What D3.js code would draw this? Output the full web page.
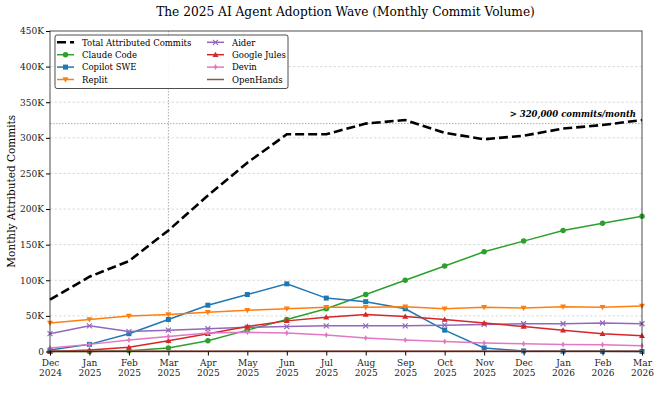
<!DOCTYPE html>
<html>
<head>
<meta charset="utf-8">
<script src="https://cdn.jsdelivr.net/npm/d3@7"></script>
<style>
  body { margin: 0; background: #fff; }
  svg { font-family: "DejaVu Serif", serif; }
</style>
</head>
<body>
<svg id="chart" width="659" height="410"></svg>
<script>
const months = ["Dec\n2024", "Jan\n2025", "Feb\n2025", "Mar\n2025", "Apr\n2025", "May\n2025", "Jun\n2025",
  "Jul\n2025", "Aug\n2025", "Sep\n2025", "Oct\n2025", "Nov\n2025", "Dec\n2025", "Jan\n2026", "Feb\n2026", "Mar\n2026"];

const totalCommits = [73, 105, 127, 170, 219, 265, 305, 305, 320, 325, 307, 298, 303, 313, 318, 325];
const claudeCode = [0, 0, 1, 5, 15, 30, 45, 60, 80, 100, 120, 140, 155, 170, 180, 190];
const copilotSwe = [2, 10, 25, 45, 65, 80, 95, 75, 70, 60, 30, 5, 0.8, 0.3, 0.2, 0];
const replit = [40, 45, 50, 52, 55, 58, 60, 62, 62, 63, 60, 62, 61, 63, 62, 64];
const aider = [25, 36, 28, 30, 32, 34, 35, 36, 36, 36, 37, 38, 39, 39, 40, 39];
const googleJules = [0, 2, 6, 15, 25, 35, 43, 48, 52, 49, 45, 40, 35, 30, 25, 22];
const devin = [5, 10, 16, 21, 26, 27, 26, 23, 19, 16, 14, 12, 11, 10, 9.5, 8];
const openHands = [0.5, 0.5, 0.5, 0.5, 0.5, 0.5, 0.5, 0.5, 0.5, 0.5, 0.5, 0.5, 0.5, 0.5, 0.5, 0.5];
const yTicks = [0, 50, 100, 150, 200, 250, 300, 350, 400, 450];

const series = [
  { name: "Claude Code", values: claudeCode, color: "#2ca02c", marker: "circle" },
  { name: "Copilot SWE", values: copilotSwe, color: "#1f77b4", marker: "square" },
  { name: "Replit", values: replit, color: "#ff7f0e", marker: "tridown" },
  { name: "Aider", values: aider, color: "#9467bd", marker: "x" },
  { name: "Google Jules", values: googleJules, color: "#d62728", marker: "triup" },
  { name: "Devin", values: devin, color: "#e377c2", marker: "thindiamond" },
  { name: "OpenHands", values: openHands, color: "#8c564b", marker: null }
];

const svg = d3.select("#chart");
const margin = { top: 31, right: 17, bottom: 58.5, left: 50 };
const width = 659 - margin.left - margin.right;
const height = 410 - margin.top - margin.bottom;

const g = svg.append("g").attr("transform", `translate(${margin.left},${margin.top})`);

const x = d3.scalePoint().domain(d3.range(months.length)).range([0, width]);
const y = d3.scaleLinear().domain([0, 450]).range([height, 0]);

// grid
g.append("g")
  .selectAll("line")
  .data(yTicks.slice(1, -1))
  .join("line")
  .attr("x1", 0).attr("x2", width)
  .attr("y1", (d) => y(d)).attr("y2", (d) => y(d))
  .attr("stroke", "#cccccc")
  .attr("stroke-width", 0.7)
  .attr("stroke-dasharray", "2.5,2");

// annotation lines
g.append("line")
  .attr("x1", x(3)).attr("x2", x(3))
  .attr("y1", 0).attr("y2", height)
  .attr("stroke", "#999").attr("stroke-width", 0.8).attr("stroke-dasharray", "1.5,1.5");
g.append("line")
  .attr("x1", 0).attr("x2", width)
  .attr("y1", y(320)).attr("y2", y(320))
  .attr("stroke", "#999").attr("stroke-width", 0.8).attr("stroke-dasharray", "1.5,1.5");

g.append("text")
  .attr("x", width - 6)
  .attr("y", y(320) - 7)
  .attr("text-anchor", "end")
  .attr("font-size", 8.5)
  .attr("font-weight", "bold")
  .attr("font-style", "italic")
  .text("> 320,000 commits/month");

const line = (vals) => d3.line().x((d, i) => x(i)).y((d) => y(d))(vals);

function drawMarker(sel, type, color, size) {
  const s = size;
  if (type === "circle") {
    sel.append("circle").attr("r", s * 0.55).attr("fill", color);
  } else if (type === "square") {
    sel.append("rect").attr("x", -s * 0.5).attr("y", -s * 0.5).attr("width", s).attr("height", s).attr("fill", color);
  } else if (type === "tridown") {
    sel.append("path").attr("d", `M${-s * 0.6},${-s * 0.45}L${s * 0.6},${-s * 0.45}L0,${s * 0.6}Z`).attr("fill", color);
  } else if (type === "triup") {
    sel.append("path").attr("d", `M${-s * 0.6},${s * 0.45}L${s * 0.6},${s * 0.45}L0,${-s * 0.6}Z`).attr("fill", color);
  } else if (type === "x") {
    sel.append("path").attr("d", `M${-s * 0.5},${-s * 0.5}L${s * 0.5},${s * 0.5}M${-s * 0.5},${s * 0.5}L${s * 0.5},${-s * 0.5}`)
      .attr("stroke", color).attr("stroke-width", 1.2);
  } else if (type === "thindiamond") {
    sel.append("path").attr("d", `M0,${-s * 0.6}L${s * 0.35},0L0,${s * 0.6}L${-s * 0.35},0Z`).attr("fill", color);
  }
}

series.forEach((s) => {
  g.append("path")
    .attr("d", line(s.values))
    .attr("fill", "none")
    .attr("stroke", s.color)
    .attr("stroke-width", s.marker ? 1.5 : 2);
  if (s.marker) {
    g.append("g")
      .selectAll("g")
      .data(s.values)
      .join("g")
      .attr("transform", (d, i) => `translate(${x(i)},${y(d)})`)
      .each(function () { drawMarker(d3.select(this), s.marker, s.color, 5); });
  }
});

g.append("path")
  .attr("d", line(totalCommits))
  .attr("fill", "none")
  .attr("stroke", "#000")
  .attr("stroke-width", 2.6)
  .attr("stroke-dasharray", "9,4");

// frame
g.append("rect")
  .attr("width", width).attr("height", height)
  .attr("fill", "none").attr("stroke", "#222").attr("stroke-width", 0.8);

// axes
const yAxis = g.append("g")
  .call(d3.axisLeft(y).tickValues(yTicks).tickSize(4).tickPadding(2)
    .tickFormat((d) => (d === 0 ? "0" : d + "K")));
yAxis.select(".domain").remove();
yAxis.selectAll("text").attr("font-size", 9).attr("font-family", "DejaVu Serif").attr("fill", "#222");

const xAxis = g.append("g")
  .attr("transform", `translate(0,${height})`)
  .call(d3.axisBottom(x).tickSize(4).tickPadding(2).tickFormat(""));
xAxis.select(".domain").remove();
xAxis.selectAll(".tick").each(function (d) {
  const parts = months[d].split("\n");
  const t = d3.select(this).append("text")
    .attr("fill", "#222").attr("font-size", 9).attr("font-family", "DejaVu Serif")
    .attr("text-anchor", "middle").attr("y", 14);
  t.append("tspan").attr("x", 0).text(parts[0]);
  t.append("tspan").attr("x", 0).attr("dy", 10.5).text(parts[1]);
});

// titles
svg.append("text")
  .attr("x", 345.5).attr("y", 16)
  .attr("text-anchor", "middle")
  .attr("font-size", 12.2)
  .text("The 2025 AI Agent Adoption Wave (Monthly Commit Volume)");

svg.append("text")
  .attr("transform", `translate(15,${margin.top + height / 2}) rotate(-90)`)
  .attr("text-anchor", "middle")
  .attr("font-size", 10.5)
  .text("Monthly Attributed Commits");

// legend
const legendItems = [{ name: "Total Attributed Commits", color: "#000", marker: null, dashed: true }].concat(series);
const legend = svg.append("g").attr("transform", "translate(55,35)");
legend.append("rect")
  .attr("width", 233).attr("height", 53.5)
  .attr("rx", 2)
  .attr("fill", "#fff").attr("fill-opacity", 0.9)
  .attr("stroke", "#222").attr("stroke-width", 0.8);

legendItems.forEach((item, i) => {
  const col = Math.floor(i / 4);
  const row = i % 4;
  const item_g = legend.append("g").attr("transform", `translate(${2 + col * 150},${7.3 + row * 12.4})`);
  item_g.append("line")
    .attr("x1", 0).attr("x2", 17)
    .attr("stroke", item.color)
    .attr("stroke-width", item.dashed ? 2.6 : 1.5)
    .attr("stroke-dasharray", item.dashed ? "9,4" : null);
  if (item.marker) {
    const m = item_g.append("g").attr("transform", "translate(8.5,0)");
    drawMarker(m, item.marker, item.color, 5);
  }
  item_g.append("text")
    .attr("x", 25).attr("y", 3.2)
    .attr("font-size", 8.5)
    .text(item.name);
});
</script>
</body>
</html>
